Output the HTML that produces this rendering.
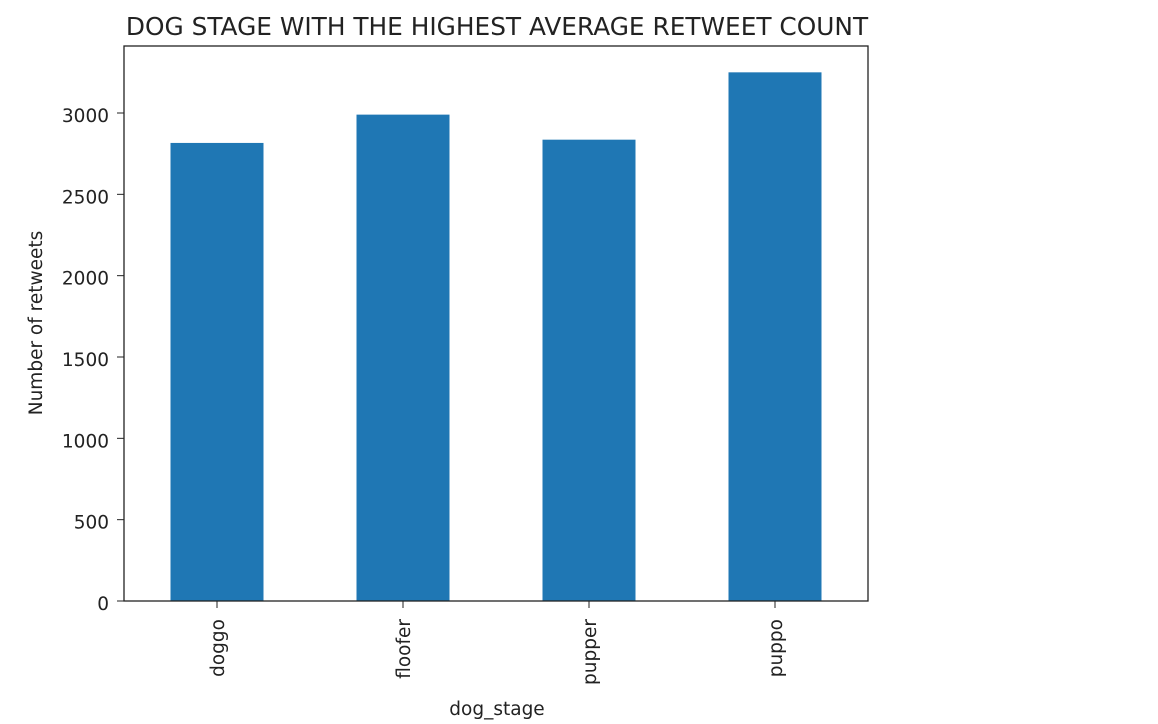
<!DOCTYPE html>
<html><head><meta charset="utf-8"><style>
body{margin:0;background:#fff;}
svg{display:block;font-family:"DejaVu Sans","Liberation Sans",sans-serif;}
</style></head><body>
<svg id="chart" width="1158" height="724" viewBox="0 0 1158 724">
<rect width="1158" height="724" fill="#fff"/>
<text x="497" y="35" font-size="24.8" text-anchor="middle" fill="#222">DOG STAGE WITH THE HIGHEST AVERAGE RETWEET COUNT</text>
<g id="bars"></g><g id="yticks"></g><g id="xticks"></g>
<rect x="124" y="46" width="744" height="555" fill="none" stroke="#222" stroke-width="1.3"/>
<text transform="translate(42,323) rotate(-90)" font-size="18.5" text-anchor="middle" fill="#222">Number of retweets</text>
<text x="497" y="715" font-size="18.5" text-anchor="middle" fill="#222">dog_stage</text>
</svg>
<script>
const categories=["doggo","floofer","pupper","puppo"];
const values=[2816,2990,2836,3250];
const yTicks=[0,500,1000,1500,2000,2500,3000];
const L=124,R=868,B=601,T=46;
const ns="http://www.w3.org/2000/svg";
const yScale=v=>B-v*(601-113)/3000;
const band=(R-L)/categories.length;
const xScale=i=>L+band*(i+0.5);
const bars=document.getElementById('bars'),yt=document.getElementById('yticks'),xt=document.getElementById('xticks');
categories.forEach((c,i)=>{
 const r=document.createElementNS(ns,'rect');
 
 
 const w=band*0.5;
 r.setAttribute('x',xScale(i)-w/2);r.setAttribute('y',yScale(values[i]));
 r.setAttribute('width',w);r.setAttribute('height',B-yScale(values[i]));
 r.setAttribute('fill','#1f77b4');bars.appendChild(r);
 const l=document.createElementNS(ns,'line');
 
 
 l.setAttribute('x1',xScale(i));l.setAttribute('x2',xScale(i));l.setAttribute('y1',B);l.setAttribute('y2',B+7);l.setAttribute('stroke','#222');xt.appendChild(l);
 const t=document.createElementNS(ns,'text');
 
 
 t.setAttribute('transform','translate('+(xScale(i)+7)+','+(B+18)+') rotate(-90)');
 t.setAttribute('text-anchor','end');t.setAttribute('font-size','18.5');t.setAttribute('fill','#222');t.textContent=c;xt.appendChild(t);
});
yTicks.forEach(v=>{
 const y=yScale(v);
 const l=document.createElementNS(ns,'line');
 
 
 l.setAttribute('x1',L-7);l.setAttribute('x2',L);l.setAttribute('y1',y);l.setAttribute('y2',y);l.setAttribute('stroke','#222');yt.appendChild(l);
 const t=document.createElementNS(ns,'text');
 
 
 t.setAttribute('x',L-15);t.setAttribute('y',y+9);t.setAttribute('text-anchor','end');t.setAttribute('font-size','18.5');t.setAttribute('fill','#222');t.textContent=v;yt.appendChild(t);
});
</script>
</body></html>
